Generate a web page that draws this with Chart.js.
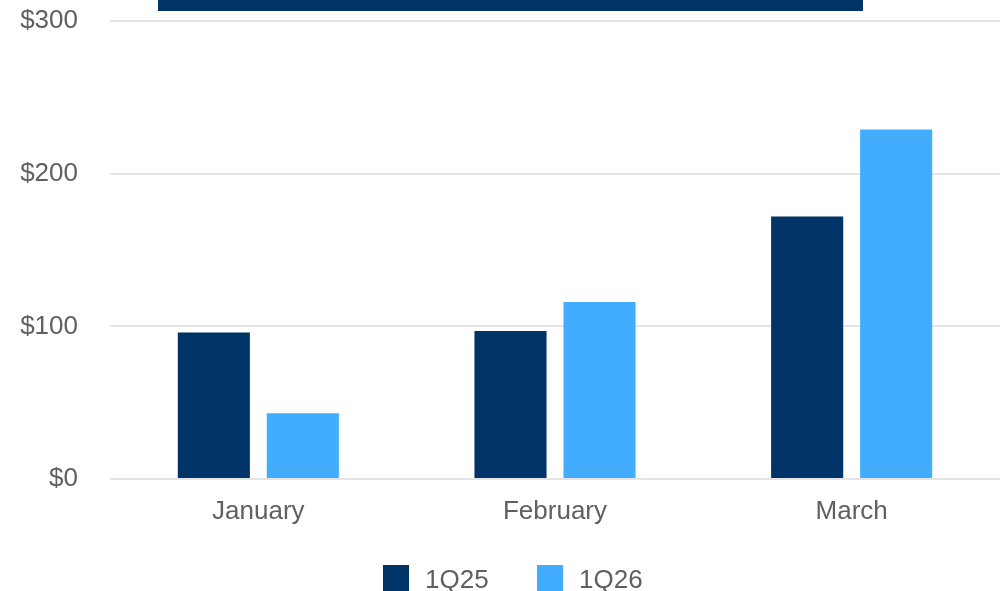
<!DOCTYPE html>
<html>
<head>
<meta charset="utf-8">
<title>Monthly comparison 1Q25 vs 1Q26</title>
<script src="https://cdn.jsdelivr.net/npm/chart.js@4.4.1/dist/chart.umd.min.js"></script>
<style>
  html, body { margin: 0; padding: 0; background: #ffffff; overflow: hidden; }
  #wrap { position: relative; width: 1001px; height: 591px; }
  #banner { position: absolute; left: 158px; top: 0; width: 705px; height: 11px; background: #003366; }
  #legend { position: absolute; top: 565px; left: 0; width: 1001px; height: 26px;
            font-family: "Liberation Sans", Arial, Helvetica, sans-serif; font-size: 26px; color: #606060; }
  .item { position: absolute; top: 0; height: 26px; line-height: 26px; white-space: nowrap; }
  .swatch { position: absolute; top: 0; width: 26px; height: 26px; }
</style>
</head>
<body>
<div id="wrap">
  <canvas id="chart" width="1001" height="591"></canvas>
  <div id="banner"></div>
  <div id="legend"></div>
</div>
<script>
// Months on the category axis
const months = ['January', 'February', 'March'];
// Monthly values, in dollars
const q25Values = [96, 97, 172];
const q26Values = [43, 116, 229];
// Series names
const seriesNames = ['1Q25', '1Q26'];
// Value-axis ticks
const yTicks = [0, 100, 200, 300];

const seriesColors = ['#003366', '#42adfc'];
const textGray = '#606060';
const fontFamily = '"Liberation Sans", Arial, Helvetica, sans-serif';

const chart = new Chart(document.getElementById('chart'), {
  type: 'bar',
  data: {
    labels: months,
    datasets: [
      { label: seriesNames[0], data: q25Values, backgroundColor: seriesColors[0],
        categoryPercentage: 0.6, barPercentage: 0.81 },
      { label: seriesNames[1], data: q26Values, backgroundColor: seriesColors[1],
        categoryPercentage: 0.6, barPercentage: 0.81 }
    ]
  },
  options: {
    responsive: false,
    animation: false,
    layout: { padding: { top: 21, right: 1, left: 0, bottom: 52 } },
    plugins: {
      tooltip: { enabled: false },
      legend: { display: false }
    },
    scales: {
      x: {
        grid: { display: false, drawTicks: false },
        border: { display: false },
        ticks: { color: textGray, padding: 17, font: { family: fontFamily, size: 26 } },
        afterFit: (scale) => { scale.height = 60; scale.paddingLeft = 0; scale.paddingRight = 0; }
      },
      y: {
        min: yTicks[0],
        max: yTicks[yTicks.length - 1],
        afterBuildTicks: (scale) => { scale.ticks = yTicks.map(v => ({ value: v })); },
        grid: { color: '#e4e4e4', lineWidth: 2, drawTicks: false },
        border: { display: false },
        ticks: {
          color: textGray,
          padding: 32,
          font: { family: fontFamily, size: 26 },
          callback: (v) => '$' + v
        },
        afterFit: (scale) => { scale.width = 110; scale.paddingTop = 0; scale.paddingBottom = 0; }
      }
    }
  }
});

// Legend built from the chart's own datasets
const legendEl = document.getElementById('legend');
const itemLefts = [383, 537];
chart.data.datasets.forEach((ds, i) => {
  const item = document.createElement('div');
  item.className = 'item';
  item.style.left = itemLefts[i] + 'px';
  const sw = document.createElement('span');
  sw.className = 'swatch';
  sw.style.left = '0px';
  sw.style.background = ds.backgroundColor;
  const label = document.createElement('span');
  label.textContent = ds.label;
  label.style.position = 'absolute';
  label.style.left = '42px';
  label.style.top = '1px';
  item.appendChild(sw);
  item.appendChild(label);
  legendEl.appendChild(item);
});
</script>
</body>
</html>
